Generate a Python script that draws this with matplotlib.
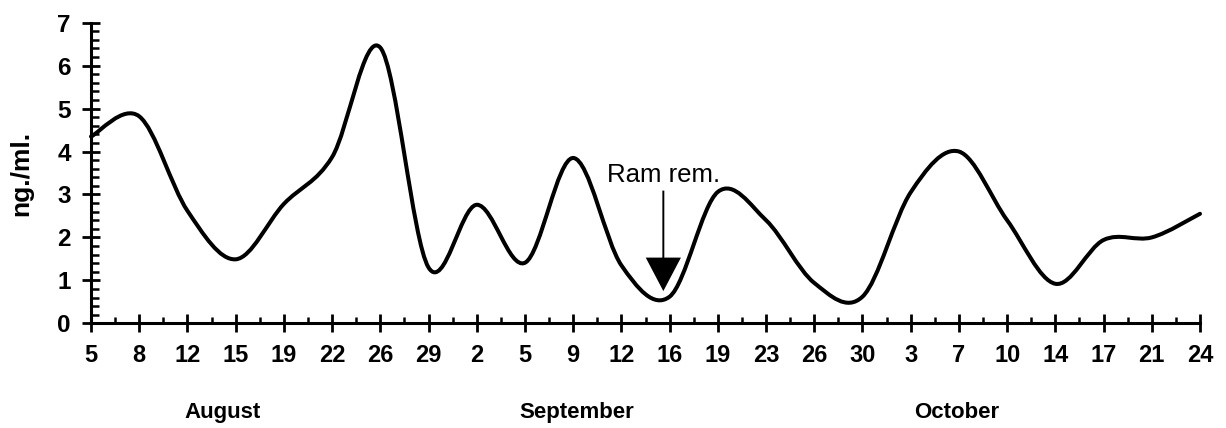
import numpy as np
import matplotlib
matplotlib.use("Agg")
import matplotlib.pyplot as plt
from matplotlib.path import Path
from matplotlib.patches import PathPatch
from matplotlib.ticker import MultipleLocator, FixedLocator
import matplotlib.transforms as mtransforms

# ---------------- data ----------------
tick_labels = ['5', '8', '12', '15', '19', '22', '26', '29',
               '2', '5', '9', '12', '16', '19', '23', '26', '30',
               '3', '7', '10', '14', '17', '21', '24']
months = ['August', 'September', 'October']
month_centers = [2.73, 10.07, 17.95]

# one sample per labelled date (ng./ml.)
values = [4.35, 4.82, 2.62, 1.49, 2.78, 3.87, 6.42, 1.30, 2.76, 1.41,
          3.85, 1.35, 0.62, 3.06, 2.40, 0.94, 0.62, 3.05, 4.00, 2.40,
          0.92, 1.94, 2.00, 2.55]

annot_text = 'Ram rem.'
annot_x = 11.87
annot_tail = 3.09
annot_tip = 0.75

# ---------------- figure ----------------
plt.rcParams['font.family'] = ['Liberation Sans', 'DejaVu Sans']
fig = plt.figure(figsize=(12.26, 4.28), dpi=100)
ax = fig.add_axes([91 / 1226, 1 - 323.3 / 428, (1200 - 91) / 1226, (323.3 - 22.7) / 428])

# smoothed line (Excel-like Bezier smoothing through the samples)
xs = np.arange(len(values), dtype=float)
ys = np.asarray(values, float)
n = len(xs)
verts = [(xs[0], ys[0])]
codes = [Path.MOVETO]
for i in range(n - 1):
    p0 = np.array([xs[max(i - 1, 0)], ys[max(i - 1, 0)]])
    p1 = np.array([xs[i], ys[i]])
    p2 = np.array([xs[i + 1], ys[i + 1]])
    p3 = np.array([xs[min(i + 2, n - 1)], ys[min(i + 2, n - 1)]])
    c1 = p1 + (p2 - p0) / 6.0
    c2 = p2 - (p3 - p1) / 6.0
    verts += [tuple(c1), tuple(c2), tuple(p2)]
    codes += [Path.CURVE4] * 3
ax.add_patch(PathPatch(Path(verts, codes), fill=False, lw=2.9, edgecolor='black',
                       capstyle='round', joinstyle='round', clip_on=False))

ax.set_xlim(0, len(tick_labels) - 1)
ax.set_ylim(0, 7)

for s in ['top', 'right']:
    ax.spines[s].set_visible(False)
for s in ['left', 'bottom']:
    ax.spines[s].set_linewidth(2.2)

ax.xaxis.set_major_locator(FixedLocator(list(range(len(tick_labels)))))
ax.set_xticklabels(tick_labels)
ax.xaxis.set_minor_locator(MultipleLocator(0.5))
ax.yaxis.set_major_locator(MultipleLocator(1))
ax.yaxis.set_minor_locator(MultipleLocator(0.2))

ax.tick_params(axis='both', which='major', direction='inout', length=13, width=2.0)
ax.tick_params(axis='x', which='minor', direction='in', length=4.5, width=1.8)
ax.tick_params(axis='y', which='minor', direction='in', length=5.5, width=1.8)
ax.tick_params(axis='x', which='major', pad=8.5, labelsize=17)
ax.tick_params(axis='y', which='major', pad=8, labelsize=17.5)
for lab in ax.get_xticklabels() + ax.get_yticklabels():
    lab.set_fontweight('bold')

# month labels
trans = mtransforms.blended_transform_factory(ax.transData, ax.transAxes)
for m, c in zip(months, month_centers):
    ax.text(c, -0.315, m, transform=trans, ha='center', va='baseline',
            fontsize=16, fontweight='bold')

# y label
ax.text(-0.0625, 0.5, 'ng./ml.', transform=ax.transAxes, rotation=90,
        ha='center', va='center', fontsize=19, fontweight='bold')

# annotation arrow
ax.arrow(annot_x, annot_tail, 0, annot_tip - annot_tail, width=0.04,
         head_width=0.73, head_length=0.78, length_includes_head=True,
         fc='black', ec='black', lw=0)
ax.text(annot_x, 3.28, annot_text, ha='center', va='baseline', fontsize=18.5)

fig.savefig('out.png', dpi=100)
